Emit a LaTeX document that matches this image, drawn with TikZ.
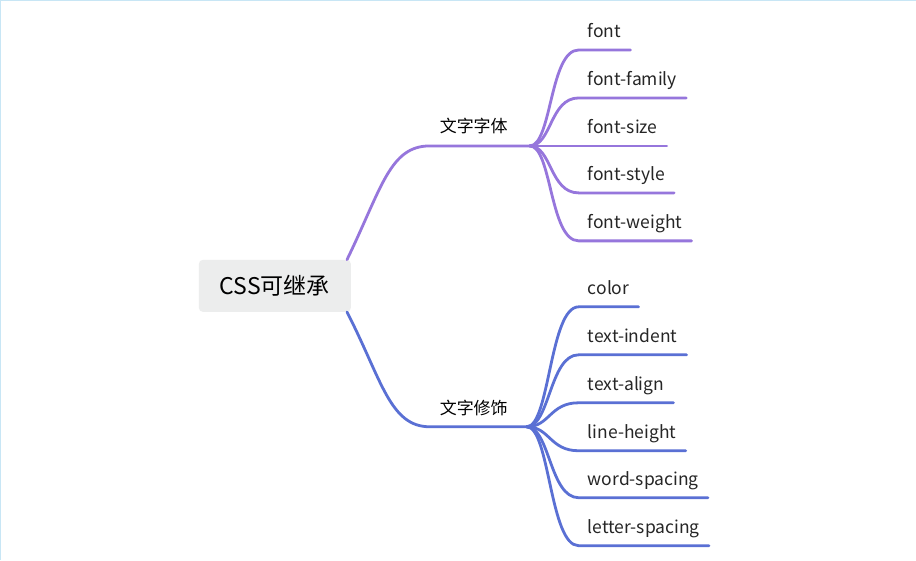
\documentclass[tikz,border=0pt]{standalone}
\usepackage{fontspec}
\setmainfont{Noto Sans CJK SC}
\usepackage{xcolor}
\definecolor{lilac}{RGB}{150,118,220}
\definecolor{cornflower}{RGB}{90,112,212}
\definecolor{rootgray}{RGB}{236,237,237}
\definecolor{framecyan}{RGB}{200,230,245}

\begin{document}
\begin{tikzpicture}[x=1pt,y=-1pt,
  leaf/.style={anchor=south west,inner xsep=9pt,inner ysep=8pt,text height=12pt,text depth=4pt,
    font=\fontsize{17.5}{20}\selectfont,text=black!85},
  branch/.style={anchor=south,inner sep=0pt,text depth=2pt,font=\fontsize{17}{20}\selectfont},
  twig/.style={line width=2.8pt,line cap=round}]
\fill[white] (0,0) rectangle (916,560);
\draw[framecyan,line width=1pt] (0.5,560) -- (0.5,0.5) -- (916,0.5);

\node[fill=rootgray,rounded corners=4pt,minimum width=152pt,minimum height=52pt,
  font=\fontsize{23}{26}\selectfont] (css) at (275,286) {CSS可继承};

\node[branch] (ziti) at (474,135) {文字字体};
\coordinate (zitihub) at (530,146);
\draw[twig,lilac] ([xshift=-4pt]css.north east) .. controls (382,188) and (390,146) .. (430,146) -- (zitihub);

\node[branch] (xiushi) at (474,417) {文字修饰};
\coordinate (xiushihub) at (527,427);
\draw[twig,cornflower] ([xshift=-4pt]css.south east) .. controls (382,380) and (390,427) .. (430,427) -- (xiushihub);

\node[leaf] (font) at (579,50) {font};
\node[leaf] (fontfamily) at (579,98) {font-family};
\node[leaf] (fontsize) at (579,146) {font-size};
\node[leaf] (fontstyle) at (579,193) {font-style};
\node[leaf] (fontweight) at (579,241) {font-weight};
\draw[twig,lilac] (zitihub) .. controls (552,146) and (550,50) .. (font.south west) -- (font.south east);
\draw[twig,lilac] (zitihub) .. controls (552,146) and (550,98) .. (fontfamily.south west) -- (fontfamily.south east);
\draw[twig,lilac] (zitihub) -- (fontsize.south west) -- (fontsize.south east);
\draw[twig,lilac] (zitihub) .. controls (552,146) and (550,193) .. (fontstyle.south west) -- (fontstyle.south east);
\draw[twig,lilac] (zitihub) .. controls (552,146) and (550,241) .. (fontweight.south west) -- (fontweight.south east);

\node[leaf] (color) at (579,307) {color};
\node[leaf] (textindent) at (579,355) {text-indent};
\node[leaf] (textalign) at (579,403) {text-align};
\node[leaf] (lineheight) at (579,451) {line-height};
\node[leaf] (wordspacing) at (579,498) {word-spacing};
\node[leaf] (letterspacing) at (579,546) {letter-spacing};
\draw[twig,cornflower] (xiushihub) .. controls (550,427) and (550,307) .. (color.south west) -- (color.south east);
\draw[twig,cornflower] (xiushihub) .. controls (550,427) and (550,355) .. (textindent.south west) -- (textindent.south east);
\draw[twig,cornflower] (xiushihub) .. controls (550,427) and (550,403) .. (textalign.south west) -- (textalign.south east);
\draw[twig,cornflower] (xiushihub) .. controls (550,427) and (550,451) .. (lineheight.south west) -- (lineheight.south east);
\draw[twig,cornflower] (xiushihub) .. controls (550,427) and (550,498) .. (wordspacing.south west) -- (wordspacing.south east);
\draw[twig,cornflower] (xiushihub) .. controls (550,427) and (550,546) .. (letterspacing.south west) -- (letterspacing.south east);
\end{tikzpicture}
\end{document}
